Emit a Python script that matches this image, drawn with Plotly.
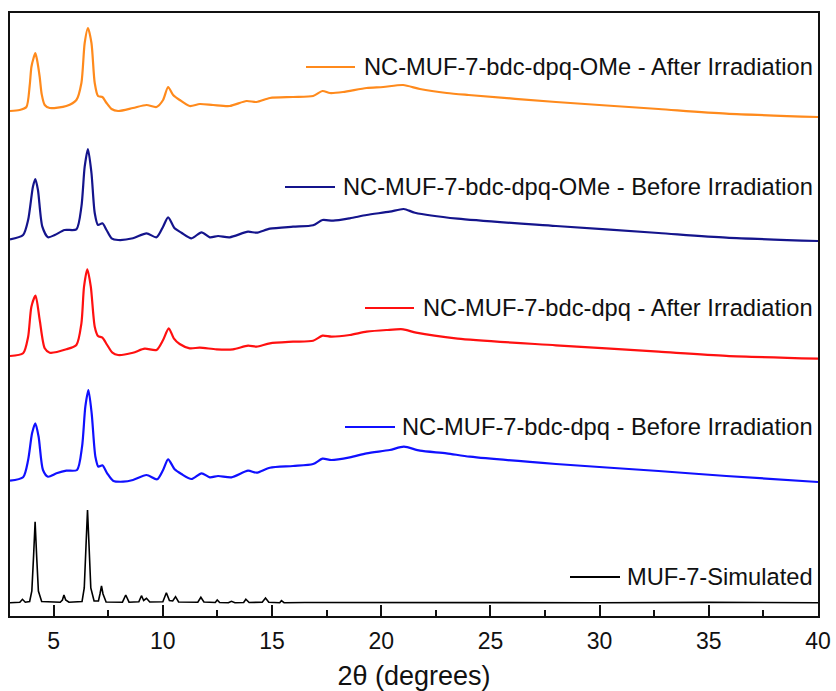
import plotly.graph_objects as go

# --- Powder XRD patterns, stacked (2θ in degrees, intensity in stacked a.u.) ---
theta_orange = [3.0, 3.44, 3.75, 3.9, 3.98, 4.08, 4.16, 4.24, 4.36, 4.45, 4.59, 4.82, 5.58, 6.04, 6.27, 6.42,
                6.57, 6.73, 6.88, 7.03, 7.23, 7.42, 7.65, 7.95, 8.63, 9.25, 9.71, 10.01, 10.24, 10.47,
                10.77, 11.23, 11.69, 12.30, 13.06, 13.83, 14.29, 14.90, 15.96, 16.88, 17.31, 17.65,
                18.25, 19.33, 20.09, 21.0, 21.77, 23.0, 24.0, 28.0, 32.7, 35.8, 40.0]
int_orange = [505, 506, 509, 530, 549, 558, 563, 556, 539, 522, 511, 508, 510, 516, 533, 573,
              588, 573, 533, 520, 519, 513, 507, 505, 508, 511, 509, 516, 529, 521,
              516, 510, 512, 511, 510, 515, 514, 518, 519, 520, 525, 523,
              524, 528, 529, 531, 527, 523, 521, 514, 507, 502.4, 499]

theta_navy = [3.0, 3.6, 3.83, 4.05, 4.16, 4.28, 4.48, 4.74, 5.05, 5.5, 6.04, 6.27, 6.42, 6.57, 6.73,
              6.88, 7.03, 7.23, 7.42, 7.65, 7.95, 8.63, 9.25, 9.71, 10.01, 10.24, 10.54, 10.85, 11.31,
              11.77, 12.15, 12.53, 13.06, 13.9, 14.29, 14.9, 15.96, 16.88, 17.31, 17.80, 18.56, 19.33,
              20.39, 21.03, 21.54, 23.5, 28.0, 32.7, 35.8, 40.0]
int_navy = [376.7, 381, 396, 429.3, 437, 426, 389.3, 378.7, 381, 386, 386.7, 409.3, 449.3, 467, 443,
            403, 391, 392.7, 386, 377.7, 376, 377.7, 382.7, 378.7, 389.3, 398.7, 387.7, 383.3, 377.7,
            383.7, 378.7, 380, 378.7, 384.3, 383.3, 387.3, 389.3, 390.7, 396, 395.3, 397.7, 401,
            404.3, 407, 403.3, 397.3, 390, 383, 378.4, 375]

theta_red = [3.0, 3.6, 3.83, 3.98, 4.17, 4.36, 4.59, 4.82, 5.58, 6.04, 6.27, 6.39, 6.54, 6.70, 6.88,
             7.03, 7.23, 7.45, 7.69, 7.95, 8.63, 9.17, 9.71, 10.01, 10.27, 10.50, 10.77, 11.23, 11.69,
             12.45, 13.21, 13.90, 14.29, 14.90, 15.96, 16.88, 17.31, 17.72, 18.56, 19.33, 20.24, 21.0,
             21.6, 23.5, 28.0, 32.7, 35.8, 40.0]
int_red = [260, 262.7, 279.3, 309.3, 320.3, 296, 267.7, 263.3, 266.7, 271, 292.7, 329.3, 346.7, 329.3, 289.3,
           280, 278.3, 271, 263.3, 261, 263.3, 267.3, 266, 276, 287.7, 277.7, 272, 267.7, 268.3,
           266.7, 266.7, 270.3, 269.3, 272.7, 274.3, 275.3, 280.3, 279.3, 281, 284.3, 286, 286.7,
           283.3, 277.4, 270.7, 264.3, 260.2, 257.4]

theta_blue = [3.0, 3.6, 3.83, 4.01, 4.16, 4.31, 4.51, 4.74, 5.13, 5.58, 6.07, 6.30, 6.45, 6.59, 6.74,
              6.91, 7.05, 7.23, 7.45, 7.72, 8.18, 8.63, 9.25, 9.74, 10.01, 10.24, 10.54, 10.85, 11.31,
              11.77, 12.15, 12.53, 13.14, 13.9, 14.29, 14.9, 15.96, 16.88, 17.31, 17.72, 18.56, 19.33,
              20.39, 21.04, 21.77, 22.99, 24.06, 28.0, 32.7, 35.8, 40.0]
int_blue = [135.3, 138.7, 156, 182.7, 192.7, 179.3, 146, 139.3, 142.7, 145.3, 146, 169.3, 209.3, 226, 202.7,
            159.3, 149.3, 150.7, 142.7, 135.3, 134.3, 136, 141, 136.7, 146, 156.7, 146.7, 142, 137,
            142.7, 138.7, 140, 138.7, 145.3, 143.3, 148.3, 150, 152, 157.3, 156, 158.7, 162.7,
            166, 169.3, 165.3, 162.7, 159.3, 152, 145, 140, 134]

theta_sim = [3.0, 3.45, 3.57, 3.7, 3.9, 4.0, 4.08, 4.15, 4.22, 4.3, 4.45, 5.3, 5.4, 5.47, 5.55, 5.7,
             6.3, 6.4, 6.48, 6.55, 6.62, 6.7, 6.85, 7.05, 7.12, 7.19, 7.26, 7.4, 8.15, 8.3, 8.45,
             8.9, 9.02, 9.12, 9.25, 9.4, 10.0, 10.16, 10.3, 10.45, 10.58, 10.72, 11.6, 11.74, 11.88,
             12.4, 12.49, 12.6, 13.0, 13.14, 13.3, 13.7, 13.8, 13.95, 14.55, 14.7, 14.85, 15.35,
             15.43, 15.55, 16.5, 20.0, 25.0, 30.0, 35.0, 40.0]
int_sim = [13.3, 13.8, 16.7, 13.8, 14.5, 25, 60, 94.3, 60, 25, 14.5, 13.8, 16, 21, 16, 13.8,
           14.5, 28, 70, 106, 70, 28, 15, 15, 22, 30, 22, 14, 13.8, 21, 13.8,
           14.3, 20.3, 15.5, 17.7, 14, 14.3, 23.3, 15.5, 15, 19.3, 14, 13.8, 18.7, 14,
           13.5, 16, 13.5, 13.3, 14.7, 13.3, 13.5, 16.7, 13.5, 13.8, 18, 13.8, 13.3,
           15.3, 13.3, 13.5, 13.3, 13.5, 13.3, 13.6, 13.3]

series_names = [
    "NC-MUF-7-bdc-dpq-OMe - After Irradiation",
    "NC-MUF-7-bdc-dpq-OMe - Before Irradiation",
    "NC-MUF-7-bdc-dpq - After Irradiation",
    "NC-MUF-7-bdc-dpq - Before Irradiation",
    "MUF-7-Simulated",
]
series_x = [theta_orange, theta_navy, theta_red, theta_blue, theta_sim]
series_y = [int_orange, int_navy, int_red, int_blue, int_sim]
series_colors = ["#FF8A1C", "#14148C", "#FF1010", "#1010FF", "#000000"]

x_ticks = [5, 10, 15, 20, 25, 30, 35, 40]

W, H = 836, 691
ML, MR, MT, MB = 10, 18, 13, 75
PW, PH = W - ML - MR, H - MT - MB

# label placement (pixel positions in the page) for the in-plot key
label_py = [67, 187, 308, 427, 577]
label_line_px = [(306, 355), (285, 335), (365, 414), (345, 395), (570, 620)]
label_right_px = 815

fig = go.Figure()
for name, xs, ys, col in zip(series_names, series_x, series_y, series_colors):
    simulated = name.startswith("MUF")
    fig.add_trace(go.Scatter(
        x=xs, y=ys, mode="lines", name=name,
        line=dict(color=col, width=1.6 if simulated else 2.2,
                  shape="linear" if simulated else "spline",
                  smoothing=0.7 if not simulated else None),
        showlegend=False,
    ))

def px_to_paper_x(px):
    return (px - ML) / PW

def py_to_paper_y(py):
    return (H - MB - py) / PH

for name, col, py, (x0, x1) in zip(series_names, series_colors, label_py, label_line_px):
    fig.add_shape(type="line", xref="paper", yref="paper",
                  x0=px_to_paper_x(x0), x1=px_to_paper_x(x1),
                  y0=py_to_paper_y(py), y1=py_to_paper_y(py),
                  line=dict(color=col, width=2))
    fig.add_annotation(text=name, xref="paper", yref="paper",
                       x=px_to_paper_x(label_right_px), y=py_to_paper_y(py),
                       xanchor="right", yanchor="middle", showarrow=False,
                       font=dict(family="Liberation Sans, Arial", size=23.7, color="#111111"))

fig.update_layout(
    width=W, height=H,
    margin=dict(l=ML, r=MR, t=MT, b=MB, pad=0, autoexpand=False),
    paper_bgcolor="white", plot_bgcolor="white",
    font=dict(family="Liberation Sans, Arial", color="#111111"),
    xaxis=dict(
        range=[3, 40], tickvals=x_ticks, ticks="inside", ticklen=11, tickwidth=1.6,
        tickcolor="#111111", showline=True, linecolor="#111111", linewidth=2, mirror=True,
        showgrid=False, zeroline=False, tickfont=dict(size=23), automargin=False,
        ticklabelstandoff=3,
        minor=dict(ticks="inside", ticklen=6, tickwidth=1.5, tickcolor="#111111", dtick=2.5,
                   tick0=2.5, showgrid=False),
        title=dict(text="2θ (degrees)", font=dict(size=27), standoff=14),
    ),
    yaxis=dict(
        range=[0, PH], showticklabels=False, ticks="", showline=True, linecolor="#111111",
        linewidth=2, mirror=True, showgrid=False, zeroline=False, automargin=False,
    ),
)

fig.write_html("out.html")
